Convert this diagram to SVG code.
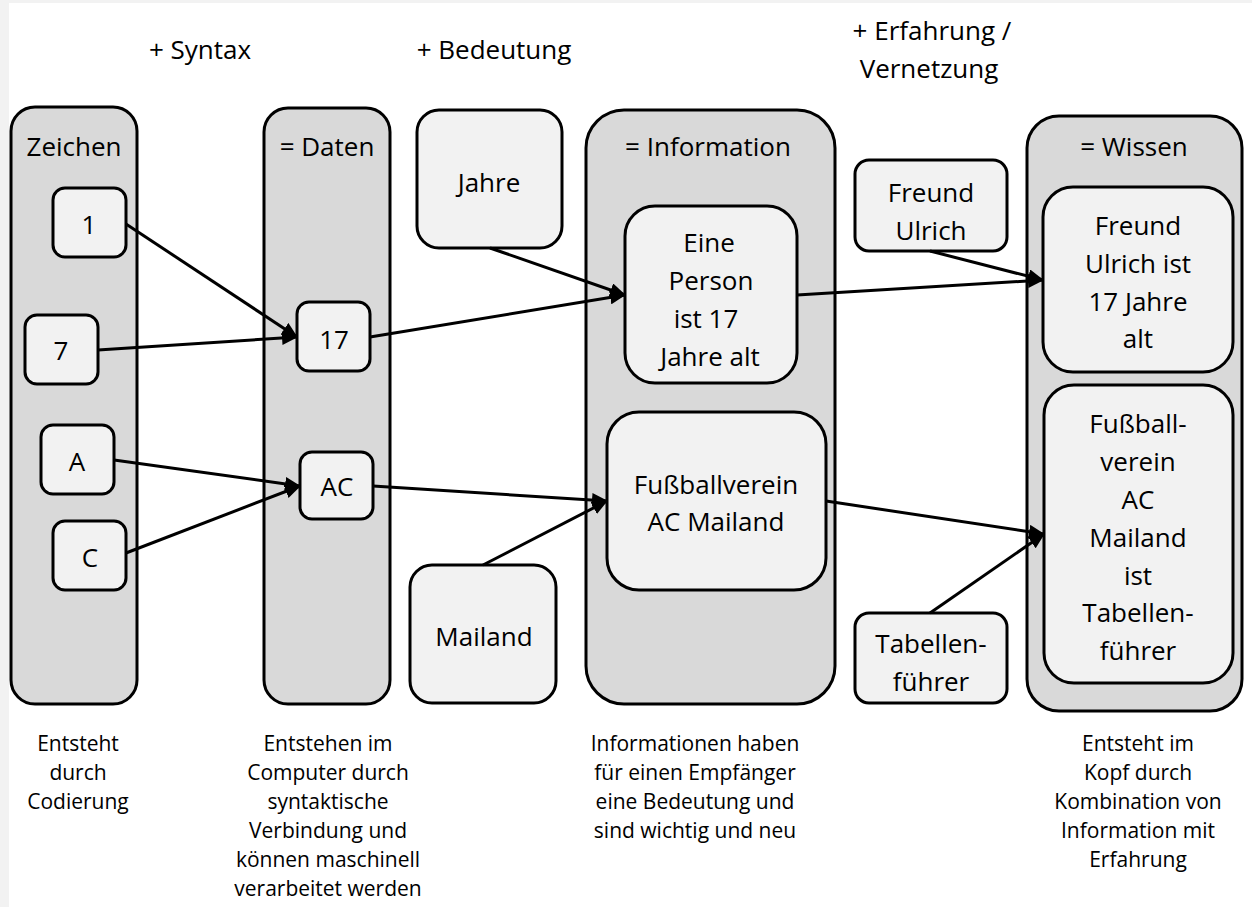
<svg xmlns="http://www.w3.org/2000/svg" width="1252" height="907" viewBox="0 0 1252 907">
<defs>
<marker id="ah" markerUnits="userSpaceOnUse" markerWidth="16" markerHeight="14" refX="15" refY="7" orient="auto">
<path d="M0,0 L16,7 L0,14 Z" fill="#000"/>
</marker>
<style>
.col{fill:#d9d9d9;stroke:#000;stroke-width:3}
.nd{fill:#f2f2f2;stroke:#000;stroke-width:3}
text{font-family:"Open Sans","Noto Sans",sans-serif;fill:#000;text-anchor:middle}
.t{font-size:26px}
.s{font-size:21px}
.cn line{stroke:#000;stroke-width:3;marker-end:url(#ah)}
</style>
</defs>
<rect x="0" y="0" width="1252" height="907" fill="#f2f2f2"/>
<rect x="9" y="3" width="1243" height="904" fill="#fff"/>

<g id="headers" class="t">
<text x="200" y="59">+ Syntax</text>
<text x="494" y="59">+ Bedeutung</text>
<text x="932" y="40">+ Erfahrung /</text>
<text x="929" y="78">Vernetzung</text>
</g>

<g id="col-zeichen"><rect class="col" x="11" y="107" width="126" height="597" rx="24"/><text class="t" x="74" y="156">Zeichen</text></g>
<g id="col-daten"><rect class="col" x="264" y="108" width="126" height="596" rx="24"/><text class="t" x="327" y="156">= Daten</text></g>
<g id="col-information"><rect class="col" x="586" y="110" width="249" height="594" rx="38"/><text class="t" x="708" y="156">= Information</text></g>
<g id="col-wissen"><rect class="col" x="1027" y="116" width="215" height="595" rx="32"/><text class="t" x="1134" y="156">= Wissen</text></g>

<g id="n-1"><rect class="nd" x="53" y="188" width="73" height="69" rx="12"/><text class="t" x="89" y="234">1</text></g>
<g id="n-7"><rect class="nd" x="25" y="315" width="73" height="69" rx="12"/><text class="t" x="61" y="360">7</text></g>
<g id="n-A"><rect class="nd" x="41" y="425" width="73" height="69" rx="12"/><text class="t" x="77" y="471">A</text></g>
<g id="n-C"><rect class="nd" x="53" y="521" width="73" height="69" rx="12"/><text class="t" x="90" y="567">C</text></g>
<g id="n-17"><rect class="nd" x="297" y="302" width="73" height="69" rx="12"/><text class="t" x="334" y="349">17</text></g>
<g id="n-AC"><rect class="nd" x="300" y="452" width="73" height="67" rx="12"/><text class="t" x="337" y="496">AC</text></g>
<g id="n-jahre"><rect class="nd" x="417" y="110" width="145" height="138" rx="22"/><text class="t" x="489" y="192">Jahre</text></g>
<g id="n-mailand"><rect class="nd" x="410" y="565" width="146" height="138" rx="22"/><text class="t" x="484" y="646">Mailand</text></g>
<g id="n-person"><rect class="nd" x="625" y="206" width="172" height="177" rx="30"/>
<text class="t" x="709" y="252">Eine</text><text class="t" x="711" y="290">Person</text><text class="t" x="706" y="328">ist 17</text><text class="t" x="710" y="366">Jahre alt</text></g>
<g id="n-verein"><rect class="nd" x="607" y="412" width="219" height="178" rx="32"/>
<text class="t" x="716" y="494">Fußballverein</text><text class="t" x="716" y="531">AC Mailand</text></g>
<g id="n-freund"><rect class="nd" x="855" y="160" width="152" height="91" rx="14"/>
<text class="t" x="931" y="202">Freund</text><text class="t" x="931" y="240">Ulrich</text></g>
<g id="n-tabellen"><rect class="nd" x="855" y="613" width="152" height="90" rx="14"/>
<text class="t" x="931" y="653">Tabellen-</text><text class="t" x="931" y="691">führer</text></g>
<g id="n-wissen1"><rect class="nd" x="1043" y="187" width="190" height="185" rx="30"/>
<text class="t" x="1138" y="235">Freund</text><text class="t" x="1138" y="273">Ulrich ist</text><text class="t" x="1138" y="311">17 Jahre</text><text class="t" x="1138" y="348">alt</text></g>
<g id="n-wissen2"><rect class="nd" x="1044" y="385" width="189" height="298" rx="30"/>
<text class="t" x="1138" y="433">Fußball-</text><text class="t" x="1138" y="471">verein</text><text class="t" x="1138" y="509">AC</text><text class="t" x="1138" y="547">Mailand</text><text class="t" x="1138" y="585">ist</text><text class="t" x="1138" y="622">Tabellen-</text><text class="t" x="1138" y="660">führer</text></g>

<g id="connectors" class="cn">
<line x1="126" y1="224" x2="297" y2="337"/>
<line x1="98" y1="350" x2="297" y2="337"/>
<line x1="114" y1="460" x2="300" y2="486"/>
<line x1="126" y1="553" x2="300" y2="486"/>
<line x1="370" y1="337" x2="625" y2="295"/>
<line x1="490" y1="248" x2="625" y2="295"/>
<line x1="373" y1="486" x2="607" y2="501"/>
<line x1="483" y1="565" x2="607" y2="501"/>
<line x1="797" y1="295" x2="1043" y2="280"/>
<line x1="930" y1="251" x2="1043" y2="280"/>
<line x1="826" y1="501" x2="1044" y2="534"/>
<line x1="930" y1="613" x2="1044" y2="534"/>
</g>

<g id="notes" class="s">
<text x="78" y="751">Entsteht</text><text x="78" y="780">durch</text><text x="78" y="809">Codierung</text>
<text x="328" y="751">Entstehen im</text><text x="328" y="780">Computer durch</text><text x="328" y="809">syntaktische</text><text x="328" y="838">Verbindung und</text><text x="328" y="867">können maschinell</text><text x="328" y="896">verarbeitet werden</text>
<text x="695" y="751">Informationen haben</text><text x="695" y="780">für einen Empfänger</text><text x="695" y="809">eine Bedeutung und</text><text x="695" y="838">sind wichtig und neu</text>
<text x="1138" y="751">Entsteht im</text><text x="1138" y="780">Kopf durch</text><text x="1138" y="809">Kombination von</text><text x="1138" y="838">Information mit</text><text x="1138" y="867">Erfahrung</text>
</g>
</svg>
